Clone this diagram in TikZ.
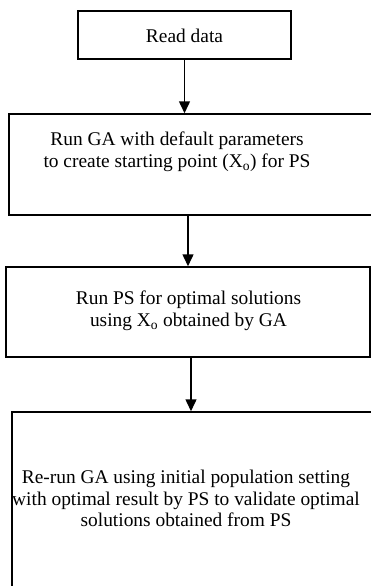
\documentclass[tikz,border=0pt]{standalone}
\usepackage{fontspec}
\setmainfont{Liberation Serif}
\usetikzlibrary{arrows.meta}
\tikzset{
  box/.style={draw=black, line width=1.5pt, rectangle, inner sep=0pt},
  lbl/.style={align=center, font=\fontsize{19.4}{21.8}\selectfont, inner sep=0pt},
  arr/.style={line width=1.5pt, -{Triangle[length=12pt,width=11pt]}}
}
\begin{document}
\begin{tikzpicture}[x=1pt,y=-1pt]
\useasboundingbox (0,0) rectangle (371,586);
\clip (0,0) rectangle (371,586);
% boxes
\node[box, minimum width=213pt, minimum height=48pt] (b1) at (184.5,35) {};
\node[box, minimum width=370pt, minimum height=101pt] (b2) at (194,164.5) {};
\node[box, minimum width=364pt, minimum height=90pt] (b3) at (188,312) {};
\node[box, minimum width=370pt, minimum height=180pt] (b4) at (197,502) {};
% texts
\node[lbl] (t1) at (184.5,36) {Read data};
\node[lbl] (t2) at (177,152) {Run GA with default parameters\\to create starting point (X\textsubscript{o}) for PS};
\node[lbl] (t3) at (188.5,311) {Run PS for optimal solutions\\using X\textsubscript{o} obtained by GA};
\node[lbl] (t4) at (186,498.5) {Re-run GA using initial population setting\\with optimal result by PS to validate optimal\\solutions obtained from PS};
% connectors
\draw[arr] (b1.south) -- (b1.south |- b2.north);
\draw[arr] (b3.north |- b2.south) -- (b3.north);
\draw[arr] ([xshift=3pt]b3.south) -- ([xshift=3pt]b3.south |- b4.north);
\end{tikzpicture}
\end{document}
